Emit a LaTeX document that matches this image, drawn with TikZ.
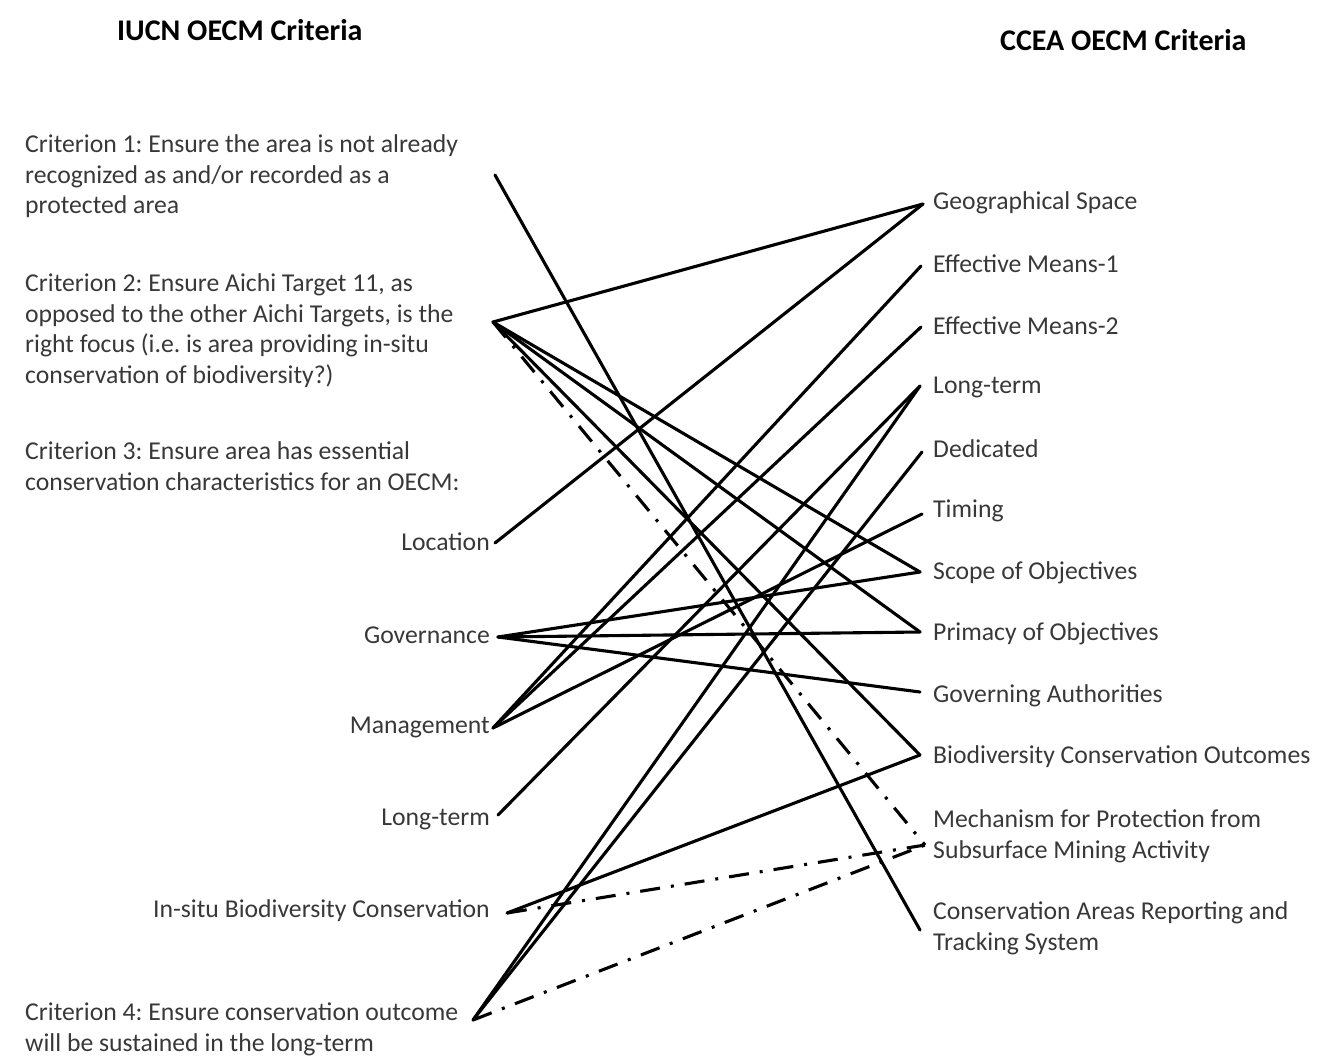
\documentclass[tikz,border=0pt]{standalone}
\usepackage{fontspec}
\setmainfont{Carlito}
\frenchspacing
\begin{document}
\begin{tikzpicture}[x=1pt,y=-1pt,
  lbl/.style={inner sep=0pt, font=\fontsize{25.7}{30.7}\selectfont, align=left, text=black!78},
  ttl/.style={inner sep=0pt, font=\fontsize{30}{34}\selectfont\bfseries, text=black},
  conn/.style={line width=3.1pt, line cap=round},
  dd/.style={line width=3.1pt, dash pattern=on 20pt off 11pt on 3pt off 11pt}]
\useasboundingbox (0,0) rectangle (1322,1060);
% titles
\node[ttl, anchor=west] (t1) at (117,30) {IUCN OECM Criteria};
\node[ttl, anchor=west] (t2) at (1000,40) {CCEA OECM Criteria};
% left texts
\node[lbl, anchor=north west] (c1) at (25,134.5) {Criterion 1: Ensure the area is not already\\recognized as and/or recorded as a\\protected area};
\node[lbl, anchor=north west] (c2) at (25,273.5) {Criterion 2: Ensure Aichi Target 11, as\\opposed to the other Aichi Targets, is the\\right focus (i.e. is area providing in-situ\\conservation of biodiversity?)};
\node[lbl, anchor=north west] (c3) at (25,441.5) {Criterion 3: Ensure area has essential\\conservation characteristics for an OECM:};
\node[lbl, anchor=east] (loc) at (490,542) {Location};
\node[lbl, anchor=east] (gov) at (490,635) {Governance};
\node[lbl, anchor=east] (man) at (490,727) {Management};
\node[lbl, anchor=east] (ltl) at (490,819) {Long-term};
\node[lbl, anchor=east] (ins) at (490,911) {In-situ Biodiversity Conservation};
\node[lbl, anchor=north west] (c4) at (25,1002.5) {Criterion 4: Ensure conservation outcome\\will be sustained in the long-term};
% right texts
\node[lbl, anchor=west] (geo) at (933,203) {Geographical Space};
\node[lbl, anchor=west] (em1) at (933,264) {Effective Means-1};
\node[lbl, anchor=west] (em2) at (933,326) {Effective Means-2};
\node[lbl, anchor=west] (ltr) at (933,387) {Long-term};
\node[lbl, anchor=west] (ded) at (933,449) {Dedicated};
\node[lbl, anchor=west] (tim) at (933,511) {Timing};
\node[lbl, anchor=west] (sco) at (933,573) {Scope of Objectives};
\node[lbl, anchor=west] (pri) at (933,634) {Primacy of Objectives};
\node[lbl, anchor=west] (gau) at (933,696) {Governing Authorities};
\node[lbl, anchor=west] (bio) at (933,757) {Biodiversity Conservation Outcomes};
\node[lbl, anchor=north west] (mec) at (933,809.5) {Mechanism for Protection from\\Subsurface Mining Activity};
\node[lbl, anchor=north west] (car) at (933,901.5) {Conservation Areas Reporting and\\Tracking System};
% endpoints
\coordinate (L1) at (495,175);
\coordinate (L2) at (493,322);
\coordinate (L3) at (495,543);
\coordinate (L4) at (498,637);
\coordinate (L5) at (493,728);
\coordinate (L6) at (498,815);
\coordinate (L7) at (507,913);
\coordinate (L8) at (473,1020);
\coordinate (R1) at (923,204);
\coordinate (R2) at (921,266);
\coordinate (R3) at (921,327);
\coordinate (R4) at (920,386);
\coordinate (R5) at (922,452);
\coordinate (R6) at (922,514);
\coordinate (R7) at (920,572);
\coordinate (R8) at (920,632);
\coordinate (R9) at (920,692);
\coordinate (R10) at (920,755);
\coordinate (R11) at (925,845);
\coordinate (R12) at (920,930);
% solid connectors
\draw[conn] (L1) -- (R12);
\draw[conn] (L2) -- (R1);
\draw[conn] (L2) -- (R7);
\draw[conn] (L2) -- (R8);
\draw[conn] (L2) -- (R10);
\draw[conn] (L3) -- (R1);
\draw[conn] (L4) -- (R7);
\draw[conn] (L4) -- (R8);
\draw[conn] (L4) -- (R9);
\draw[conn] (L5) -- (R2);
\draw[conn] (L5) -- (R3);
\draw[conn] (L5) -- (R6);
\draw[conn] (L6) -- (R4);
\draw[conn] (L7) -- (R10);
\draw[conn] (L8) -- (R4);
\draw[conn] (L8) -- (R5);
% dash-dot connectors
\draw[dd] (L2) -- (R11);
\draw[dd] (L7) -- (R11);
\draw[dd] (L8) -- (R11);
\end{tikzpicture}
\end{document}
